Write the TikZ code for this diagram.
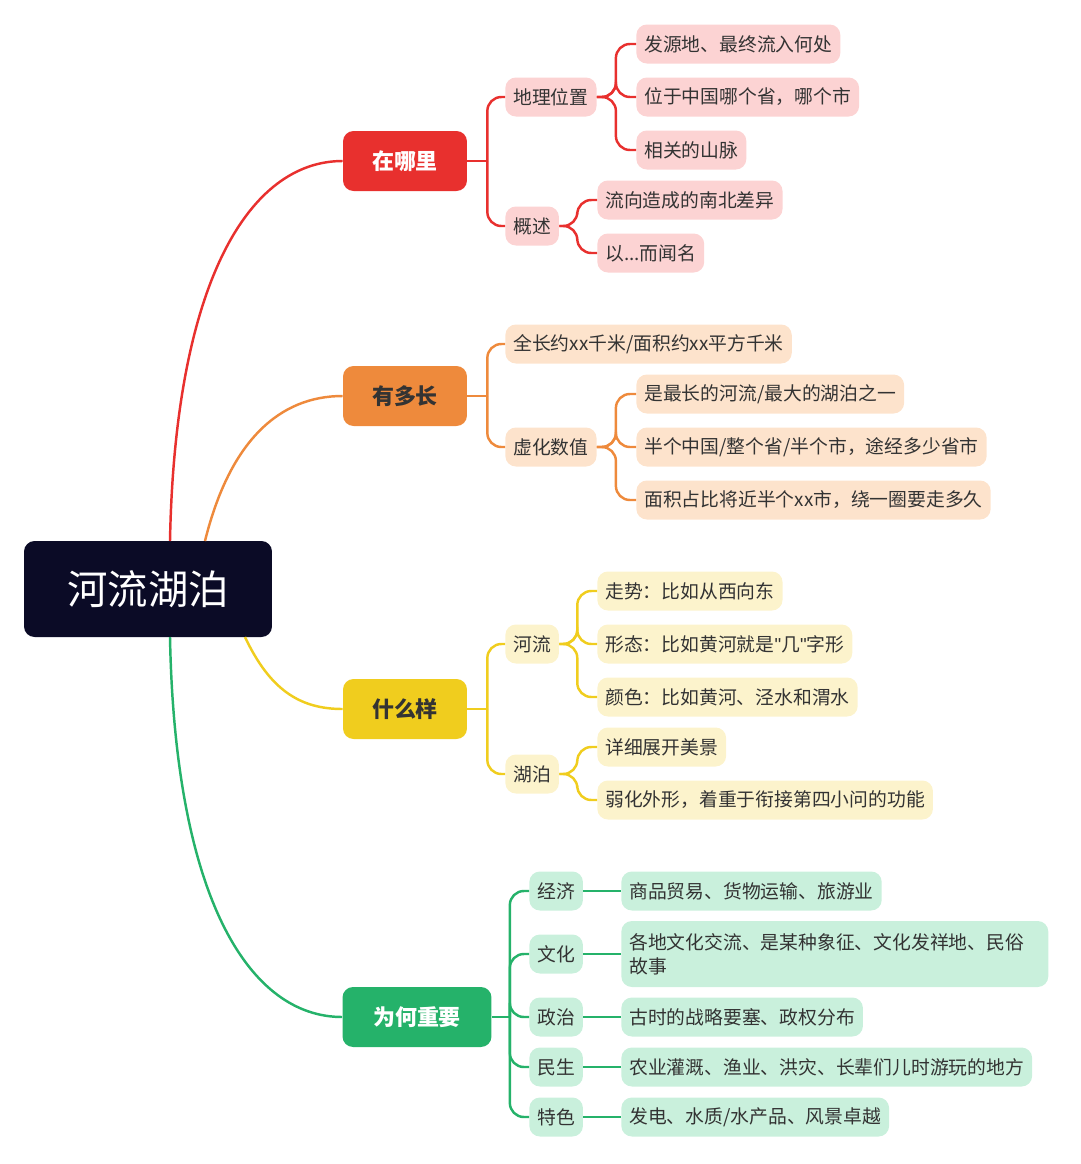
\documentclass[tikz,border=0pt]{standalone}
\usepackage{fontspec}
\setmainfont{Noto Sans CJK SC}
\newfontfamily\latinfont{Liberation Sans}
\definecolor{cnavy}{HTML}{0B0B26}
\definecolor{cred}{HTML}{E8302E}
\definecolor{cora}{HTML}{EE8A3C}
\definecolor{cyel}{HTML}{F0CD1E}
\definecolor{cgrn}{HTML}{25B26A}
\definecolor{lred}{HTML}{FCD3D3}
\definecolor{lora}{HTML}{FDE3CC}
\definecolor{lyel}{HTML}{FCF3CC}
\definecolor{lgrn}{HTML}{C9F0DC}
\definecolor{ink}{HTML}{333333}
\tikzset{
  leaf/.style={rounded corners=6pt, text=ink, inner xsep=0.16cm, minimum height=0.78cm,
    font=\fontsize{10.7}{13.5}\selectfont, anchor=west},
  topic/.style={rounded corners=6pt, minimum height=1.2cm, minimum width=2.48cm,
    font=\fontsize{12.5}{14}\selectfont\bfseries},
  link/.style={line width=1.4pt, rounded corners=8pt}
}
\begin{document}
\begin{tikzpicture}[x=0.02cm, y=-0.02cm]
  \useasboundingbox (0,0) rectangle (1080,1164);

  % root
  \node[fill=cnavy, text=white, rounded corners=6pt, minimum width=4.96cm, minimum height=1.92cm,
        font=\fontsize{23}{26}\selectfont] (root) at (148,589) {河流湖泊};

  % main topics
  \node[topic, fill=cred, text=white] (where) at (405,161) {在哪里};
  \node[topic, fill=cora, text=ink] (long) at (405,396) {有多长};
  \node[topic, fill=cyel, text=ink] (look) at (405,709) {什么样};
  \node[topic, fill=cgrn, text=white, minimum width=2.98cm] (why) at (417,1017) {为何重要};

  % root to topics
  \draw[cred, line width=1.4pt] (170,541) .. controls (175,280) and (250,161) .. (where.west);
  \draw[cora, line width=1.4pt] (205,541) .. controls (230,440) and (280,396) .. (long.west);
  \draw[cyel, line width=1.4pt] (245,637) .. controls (270,690) and (300,709) .. (look.west);
  \draw[cgrn, line width=1.4pt] (170,637) .. controls (175,900) and (250,1017) .. (why.west);

  % where
  \node[leaf, fill=lred] (geo) at (505,97) {地理位置};
  \node[leaf, fill=lred] (sum) at (505,226) {概述};
  \node[leaf, fill=lred] (geoa) at (636,44) {发源地、最终流入何处};
  \node[leaf, fill=lred] (geob) at (636,97) {位于中国哪个省，哪个市};
  \node[leaf, fill=lred] (geoc) at (636,150) {相关的山脉};
  \node[leaf, fill=lred] (suma) at (597,200) {流向造成的南北差异};
  \node[leaf, fill=lred] (sumb) at (597,253) {以...而闻名};
  \draw[link, cred] (where.east) -- ++(20,0);
  \foreach \c in {geo,sum} \draw[link, cred] (where.east) ++(20,0) |- (\c.west);
  \foreach \c in {geoa,geob,geoc} \draw[link, cred] (geo.east) -- ++(19,0) |- (\c.west);
  \foreach \c in {suma,sumb} \draw[link, cred] (sum.east) -- ++(18,0) |- (\c.west);

  % long
  \node[leaf, fill=lora] (len) at (505,344) {全长约xx千米/面积约xx平方千米};
  \node[leaf, fill=lora] (num) at (505,447) {虚化数值};
  \node[leaf, fill=lora] (numa) at (636,394) {是最长的河流/最大的湖泊之一};
  \node[leaf, fill=lora] (numb) at (636,447) {半个中国/整个省/半个市，途经多少省市};
  \node[leaf, fill=lora] (numc) at (636,500) {面积占比将近半个xx市，绕一圈要走多久};
  \draw[link, cora] (long.east) -- ++(20,0);
  \foreach \c in {len,num} \draw[link, cora] (long.east) ++(20,0) |- (\c.west);
  \foreach \c in {numa,numb,numc} \draw[link, cora] (num.east) -- ++(19,0) |- (\c.west);

  % look
  \node[leaf, fill=lyel] (river) at (505,644) {河流};
  \node[leaf, fill=lyel] (lake) at (505,774) {湖泊};
  \node[leaf, fill=lyel] (riva) at (597,591) {走势：比如从西向东};
  \node[leaf, fill=lyel] (rivb) at (597,644) {形态：比如黄河就是{\latinfont"}几{\latinfont"}字形};
  \node[leaf, fill=lyel] (rivc) at (597,697) {颜色：比如黄河、泾水和渭水};
  \node[leaf, fill=lyel] (lakea) at (597,747) {详细展开美景};
  \node[leaf, fill=lyel] (lakeb) at (597,800) {弱化外形，着重于衔接第四小问的功能};
  \draw[link, cyel] (look.east) -- ++(20,0);
  \foreach \c in {river,lake} \draw[link, cyel] (look.east) ++(20,0) |- (\c.west);
  \foreach \c in {riva,rivb,rivc} \draw[link, cyel] (river.east) -- ++(18,0) |- (\c.west);
  \foreach \c in {lakea,lakeb} \draw[link, cyel] (lake.east) -- ++(18,0) |- (\c.west);

  % why
  \foreach \n/\t/\y/\d in {eco/经济/891/{商品贸易、货物运输、旅游业},
                           pol/政治/1017/{古时的战略要塞、政权分布},
                           life/民生/1067/{农业灌溉、渔业、洪灾、长辈们儿时游玩的地方},
                           feat/特色/1117/{发电、水质/水产品、风景卓越}}{
    \node[leaf, fill=lgrn] (\n) at (529,\y) {\t};
    \node[leaf, fill=lgrn] (\n d) at (621,\y) {\d};
    \draw[cgrn, line width=1.4pt] (\n.east) -- (\n d.west);
  }
  \node[leaf, fill=lgrn] (cul) at (529,954) {文化};
  \node[leaf, fill=lgrn, text width=8.22cm, align=left, minimum height=1.32cm] (cul d) at (621,954)
    {各地文化交流、是某种象征、文化发祥地、民俗\\故事};
  \draw[cgrn, line width=1.4pt] (cul.east) -- (cul d.west);
  \draw[link, cgrn] (why.east) -- ++(18,0);
  \foreach \c in {eco,cul,pol,life,feat} \draw[link, cgrn] (why.east) ++(18,0) |- (\c.west);

\end{tikzpicture}
\end{document}
